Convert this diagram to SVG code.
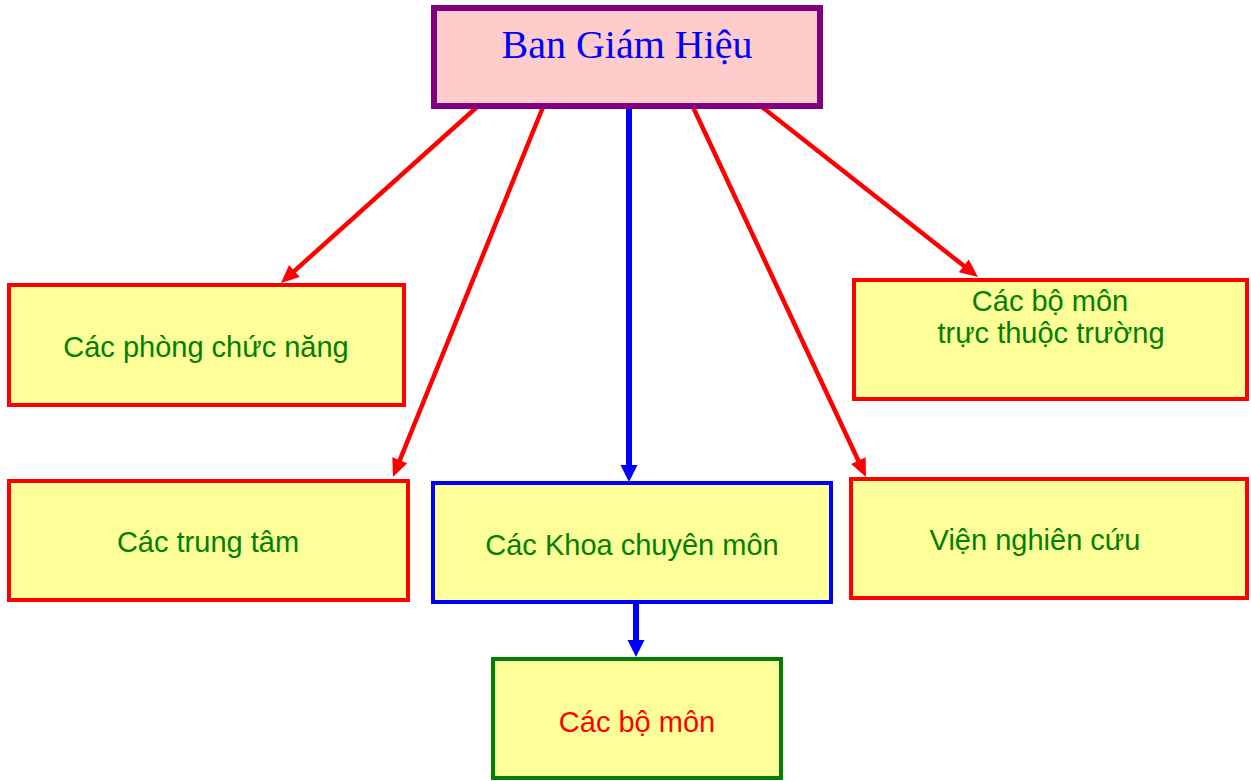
<svg xmlns="http://www.w3.org/2000/svg" width="1251" height="781" viewBox="0 0 1251 781">
<style>
.box{fill:#FFFF99;stroke-width:4}
.red{stroke:#FF0000}
.lbl{font-family:"Liberation Sans",Arial,sans-serif;font-size:29px;fill:#008000;text-anchor:middle}
.rline{stroke:#FF0000;stroke-width:4.5;fill:none}
.bline{stroke:#0000FF;stroke-width:6;fill:none}
</style>
<defs>
<marker id="ah-red" markerUnits="userSpaceOnUse" markerWidth="20" markerHeight="18" refX="2" refY="8" orient="auto" overflow="visible">
<path d="M0,0 L18,8 L0,16 z" fill="#FF0000"/>
</marker>
<marker id="ah-blue" markerUnits="userSpaceOnUse" markerWidth="19" markerHeight="19" refX="2" refY="8.5" orient="auto" overflow="visible">
<path d="M0,0 L17,8.5 L0,17 z" fill="#0000FF"/>
</marker>
</defs>
<rect width="1251" height="781" fill="#FFFFFF"/>
<g id="connectors">
<line class="rline" x1="477" y1="107" x2="292.9" y2="272.3" marker-end="url(#ah-red)"/>
<line class="rline" x1="543" y1="107" x2="399" y2="462.2" marker-end="url(#ah-red)"/>
<line class="bline" x1="629" y1="107" x2="629" y2="467" marker-end="url(#ah-blue)"/>
<line class="rline" x1="693" y1="107" x2="859.2" y2="462.5" marker-end="url(#ah-red)"/>
<line class="rline" x1="762" y1="107" x2="965.4" y2="267.1" marker-end="url(#ah-red)"/>
<line class="bline" x1="636" y1="602" x2="636" y2="642" marker-end="url(#ah-blue)"/>
</g>
<g id="ban-giam-hieu">
<rect x="434" y="8" width="386" height="98" fill="#FFCCCC" stroke="#800080" stroke-width="6"/>
<text x="627" y="58" font-family="'Liberation Serif','Times New Roman',serif" font-size="40" fill="#0000FF" text-anchor="middle">Ban Giám Hiệu</text>
</g>
<g id="phong-chuc-nang">
<rect class="box red" x="9" y="285" width="395" height="120"/>
<text class="lbl" x="206" y="357">Các phòng chức năng</text>
</g>
<g id="trung-tam">
<rect class="box red" x="9" y="481" width="399" height="119"/>
<text class="lbl" x="208" y="552">Các trung tâm</text>
</g>
<g id="khoa-chuyen-mon">
<rect class="box" x="433" y="483" width="398" height="119" stroke="#0000FF"/>
<text class="lbl" x="632" y="555">Các Khoa chuyên môn</text>
</g>
<g id="vien-nghien-cuu">
<rect class="box red" x="851" y="479" width="396" height="119"/>
<text class="lbl" x="1035" y="550">Viện nghiên cứu</text>
</g>
<g id="bo-mon-truc-thuoc">
<rect class="box red" x="854" y="280" width="393" height="119"/>
<text class="lbl" x="1050" y="311">Các bộ môn</text>
<text class="lbl" x="1051" y="343">trực thuộc trường</text>
</g>
<g id="cac-bo-mon">
<rect class="box" x="493" y="659" width="288" height="119" stroke="#008000"/>
<text class="lbl" x="637" y="732" style="fill:#FF0000">Các bộ môn</text>
</g>
</svg>
